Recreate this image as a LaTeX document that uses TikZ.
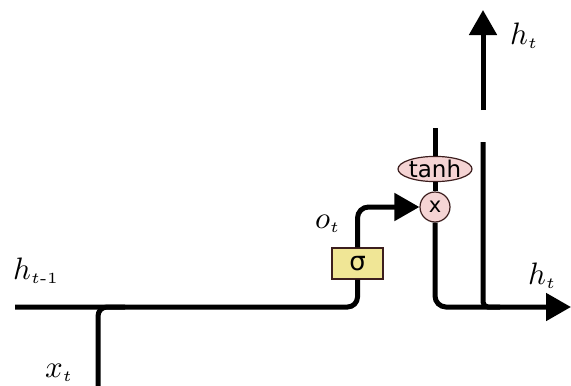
\documentclass[tikz,border=0pt]{standalone}
\usepackage{amsmath}
\usepackage{fontspec}
\newfontfamily\dejavu{DejaVu Sans}
\usetikzlibrary{arrows.meta,shapes.geometric}
\definecolor{gatey}{RGB}{240,230,150}
\definecolor{opink}{RGB}{245,212,212}
\definecolor{edgec}{RGB}{60,30,30}
\newcommand{\biglbl}[2]{\scalebox{3.1}{\fontsize{10}{12}\selectfont$#1_{\scriptscriptstyle #2}$}}
\tikzset{
  wire/.style={line width=5pt, black},
  bigtip/.style={-{Triangle[length=25pt,width=27pt]}},
  gate/.style={draw=edgec, line width=1.2pt, fill=gatey, minimum width=51pt, minimum height=31pt, inner sep=0pt, font=\dejavu\fontsize{26}{26}\selectfont},
  pointop/.style={draw=edgec, line width=1.2pt, fill=opink, inner sep=0pt},
  lbl/.style={inner sep=0pt, anchor=base west}
}
\begin{document}
\begin{tikzpicture}[x=1pt,y=-1pt]
\useasboundingbox (0,0) rectangle (571,386);
% nodes
\node[gate] (sig) at (357.5,263.5) {σ};
\node[pointop, ellipse, minimum width=74pt, minimum height=25pt, font=\dejavu\fontsize{23}{23}\selectfont] (tanh) at (435,169) {tanh};
\node[pointop, circle, minimum size=30pt, font=\dejavu\fontsize{21}{21}\selectfont] (mul) at (435,207) {x};
% coordinates
\coordinate (hin) at (15,307);
\coordinate (xin) at (98,386);
\coordinate (xjoin) at (125,307);
\coordinate (ttop) at (435,128);
\coordinate (hout) at (571,307);
\coordinate (rtop) at (483,142);
\coordinate (rjoin) at (500,307);
\coordinate (upbot) at (483,110);
\coordinate (uptop) at (483,10);
% wires
\draw[wire, rounded corners=10pt] (hin) -| (sig.south);
\draw[wire, rounded corners=9pt] (xin) |- (xjoin);
\draw[wire, bigtip, rounded corners=11pt] (sig.north) |- (mul.west);
\draw[wire] (ttop) -- (tanh.north);
\draw[wire] (tanh.south) -- (mul.north);
\draw[wire, bigtip, rounded corners=11pt] (mul.south) |- (hout);
\draw[wire, rounded corners=5pt] (rtop) |- (rjoin);
\draw[wire, bigtip] (upbot) -- (uptop);
% labels
\node[lbl] (lh1) at (13,279) {\biglbl{h}{t\text{-}1}};
\node[lbl] (lx) at (45,377) {\biglbl{x}{t}};
\node[lbl] (lo) at (315,228) {\biglbl{o}{t}};
\node[lbl] (lht) at (510,44) {\biglbl{h}{t}};
\node[lbl] (lhr) at (528,284) {\biglbl{h}{t}};
\end{tikzpicture}
\end{document}
